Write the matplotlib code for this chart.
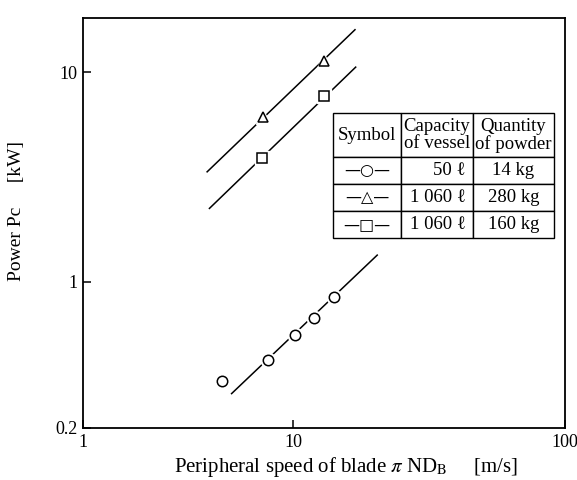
import numpy as np
import matplotlib
matplotlib.use("Agg")
import matplotlib.pyplot as plt
from matplotlib.table import Table

plt.rcParams['font.family'] = ['Liberation Serif', 'DejaVu Serif']
plt.rcParams['mathtext.fontset'] = 'stix'

# Dados lidos da figura
# circulos: 50 l, 14 kg
x_circ = np.array([4.6, 7.6, 10.2, 11.9, 14.1])
y_circ = np.array([0.335, 0.424, 0.557, 0.668, 0.846])
lx_circ = np.array([5.1, 20.4])
ly_circ = np.array([0.292, 1.34])

# triangulos: 1060 l, 280 kg
x_tri = np.array([7.2, 13.0])
y_tri = np.array([6.14, 11.3])
lx_tri = np.array([3.9, 16.9])
ly_tri = np.array([3.35, 16.0])

# quadrados: 1060 l, 160 kg
x_sq = np.array([7.1, 13.0])
y_sq = np.array([3.90, 7.72])
lx_sq = np.array([4.0, 17.0])
ly_sq = np.array([2.24, 10.6])

x_ticks = [1, 10, 100]
y_ticks = [0.2, 1, 10]
y_ticklabels = ['0.2', '1', '10']

col_labels = ['Symbol', 'Capacity\nof vessel', 'Quantity\nof powder']
simbolos = ['—○—', '—△—', '—□—']
capacidade = ['50 ℓ', '1 060 ℓ', '1 060 ℓ']
quantidade = ['14 kg', '280 kg', '160 kg']

# escala log com a segunda decada mais larga (como no original)
K = 272 / 210


def fwd(x):
    lx = np.log10(np.clip(x, 1e-12, None))
    return np.where(lx <= 1, lx, 1 + (lx - 1) * K)


def inv(y):
    return np.where(y <= 1, 10.0 ** y, 10.0 ** (1 + (y - 1) / K))


fig = plt.figure(figsize=(5.77, 4.80), dpi=100)
ax = fig.add_axes([83 / 577, 52 / 480, 482 / 577, 410 / 480])

ax.set_xscale('function', functions=(fwd, inv))
ax.set_yscale('log')
ax.set_xlim(1, 100)
ax.set_ylim(0.2, 18.2)

for lx, ly, px, py, mk in [(lx_circ, ly_circ, x_circ, y_circ, 'o'),
                           (lx_tri, ly_tri, x_tri, y_tri, '^'),
                           (lx_sq, ly_sq, x_sq, y_sq, 's')]:
    ax.plot(lx, ly, color='black', lw=1.1, zorder=2)
    # halo branco para cortar a linha perto dos simbolos
    ax.plot(px, py, ls='none', marker=mk, ms=10.5, mfc='white', mec='white', zorder=3)
    ax.plot(px, py, ls='none', marker=mk, ms=7.5, mfc='white', mec='black', mew=1.1, zorder=4)

ax.set_xticks(x_ticks)
ax.set_xticklabels([str(t) for t in x_ticks])
ax.set_yticks(y_ticks)
ax.set_yticklabels(y_ticklabels)
ax.minorticks_off()
ax.tick_params(direction='in', length=6, width=1.1, labelsize=13, pad=4)
for s in ax.spines.values():
    s.set_linewidth(1.3)

ax.set_xlabel(r'Peripheral speed of blade $\pi$ ND$_{\mathrm{B}}$     [m/s]', fontsize=15, va='center')
ax.xaxis.set_label_coords(0.546, -0.095)
ax.set_ylabel('Power Pc     [kW]', fontsize=14, va='center')
ax.yaxis.set_label_coords(-0.137, 0.529)

# tabela da legenda
tbl = Table(ax, bbox=[0.519, 0.463, 0.458, 0.305])
larguras = [68, 72, 81]
for c, txt in enumerate(col_labels):
    tbl.add_cell(0, c, width=larguras[c], height=44, text=txt, loc='center')
for r in range(3):
    tbl.add_cell(r + 1, 0, width=larguras[0], height=27, text=simbolos[r], loc='center')
    tbl.add_cell(r + 1, 1, width=larguras[1], height=27, text=capacidade[r], loc='right')
    tbl.add_cell(r + 1, 2, width=larguras[2], height=27, text=quantidade[r], loc='center')
tbl.auto_set_font_size(False)
tbl.set_fontsize(13.5)
for (r, c), cell in tbl.get_celld().items():
    cell.set_linewidth(1.0)
    cell.get_text().set_linespacing(1.0)
    if r > 0 and c == 0:
        cell.get_text().set_fontfamily(['DejaVu Sans'])
        cell.get_text().set_fontsize(11.5)
ax.add_table(tbl)

plt.savefig('out.png', dpi=100)
